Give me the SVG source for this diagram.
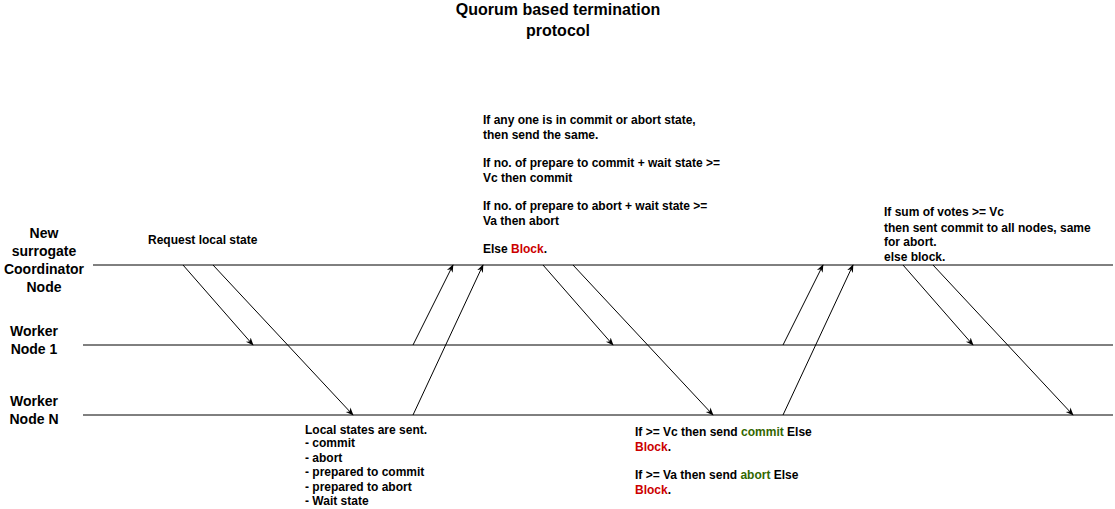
<svg xmlns="http://www.w3.org/2000/svg" width="1115" height="509" viewBox="0 0 1115 509">
<style>
text{font-family:"Liberation Sans",Arial,sans-serif;font-weight:bold;fill:#000}
.t{font-size:12px}
.lbl{font-size:14px;text-anchor:middle}
.ttl{font-size:16px;text-anchor:middle}
.ln{stroke:#000;stroke-width:1;fill:none}
.r{fill:#CC0000}
.g{fill:#336600}
</style>
<defs>
<marker id="a" viewBox="0 0 10 10" refX="9" refY="5" markerWidth="8" markerHeight="8" orient="auto" markerUnits="userSpaceOnUse">
<path d="M0,1 L10,5 L0,9 L3,5 Z" fill="#000"/>
</marker>
</defs>
<rect width="1115" height="509" fill="#fff"/>
<g id="title"><text class="ttl" x="558" y="15">Quorum based termination</text><text class="ttl" x="558" y="36">protocol</text></g>
<g id="coordinator">
<line class="ln" x1="93" y1="265" x2="1113" y2="265"/>
<text class="lbl" x="44" y="238">New</text><text class="lbl" x="44" y="256">surrogate</text><text class="lbl" x="44" y="274">Coordinator</text><text class="lbl" x="44" y="292">Node</text>
</g>
<g id="worker1">
<line class="ln" x1="83" y1="345" x2="1113" y2="345"/>
<text class="lbl" x="34" y="336">Worker</text><text class="lbl" x="34" y="354">Node 1</text>
</g>
<g id="workerN">
<line class="ln" x1="83" y1="415" x2="1113" y2="415"/>
<text class="lbl" x="34" y="406">Worker</text><text class="lbl" x="34" y="424">Node N</text>
</g>
<g id="connectors" marker-end="url(#a)">
<line class="ln" x1="183" y1="265" x2="253" y2="345" marker-end="url(#a)"/>
<line class="ln" x1="213" y1="265" x2="353" y2="415" marker-end="url(#a)"/>
<line class="ln" x1="413" y1="345" x2="453" y2="265" marker-end="url(#a)"/>
<line class="ln" x1="413" y1="415" x2="483" y2="265" marker-end="url(#a)"/>
<line class="ln" x1="543" y1="265" x2="613" y2="345" marker-end="url(#a)"/>
<line class="ln" x1="573" y1="265" x2="713" y2="415" marker-end="url(#a)"/>
<line class="ln" x1="783" y1="345" x2="823" y2="265" marker-end="url(#a)"/>
<line class="ln" x1="783" y1="415" x2="853" y2="265" marker-end="url(#a)"/>
<line class="ln" x1="903" y1="265" x2="973" y2="345" marker-end="url(#a)"/>
<line class="ln" x1="933" y1="265" x2="1073" y2="415" marker-end="url(#a)"/>
</g>
<g id="notes" class="t">
<text class="t" x="148" y="244">Request local state</text>
<text class="t" x="483" y="124">If any one is in commit or abort state,</text>
<text class="t" x="483" y="139">then send the same.</text>
<text class="t" x="483" y="167">If no. of prepare to commit + wait state &gt;=</text>
<text class="t" x="483" y="182">Vc then commit</text>
<text class="t" x="483" y="210">If no. of prepare to abort + wait state &gt;=</text>
<text class="t" x="483" y="225">Va then abort</text>
<text class="t" x="483" y="253">Else <tspan class="r">Block</tspan>.</text>
<text class="t" x="884" y="216">If sum of votes  &gt;= Vc</text>
<text class="t" x="884" y="232">then sent commit to all nodes, same</text>
<text class="t" x="884" y="246">for abort.</text>
<text class="t" x="884" y="261">else block.</text>
<text class="t" x="305" y="434">Local states are sent.</text>
<text class="t" x="305" y="447">- commit</text>
<text class="t" x="305" y="462">- abort</text>
<text class="t" x="305" y="476">- prepared to commit</text>
<text class="t" x="305" y="491">- prepared to abort</text>
<text class="t" x="305" y="505">- Wait state</text>
<text class="t" x="635" y="436">If &gt;= Vc then send <tspan class="g">commit</tspan> Else</text>
<text class="t" x="635" y="451"><tspan class="r">Block</tspan>.</text>
<text class="t" x="635" y="479">If &gt;= Va then send <tspan class="g">abort</tspan> Else</text>
<text class="t" x="635" y="494"><tspan class="r">Block</tspan>.</text>
</g>
</svg>
